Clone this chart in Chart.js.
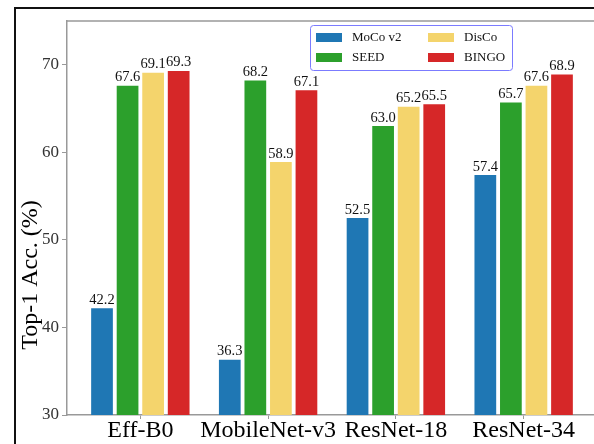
<!DOCTYPE html>
<html>
<head>
<meta charset="utf-8">
<script src="https://cdn.jsdelivr.net/npm/chart.js@4/dist/chart.umd.min.js"></script>
<style>
  html, body { margin: 0; padding: 0; background: #fff; overflow: hidden; }
  #wrap { width: 620px; height: 460px; }
</style>
</head>
<body>
<div id="wrap"><canvas id="chart" width="620" height="460"></canvas></div>
<script>
// values
const models = ['Eff-B0', 'MobileNet-v3', 'ResNet-18', 'ResNet-34'];
const mocoV2 = [42.2, 36.3, 52.5, 57.4];
const seed   = [67.6, 68.2, 63.0, 65.7];
const disco  = [69.1, 58.9, 65.2, 67.6];
const bingo  = [69.3, 67.1, 65.5, 68.9];
const yTicks = [30, 40, 50, 60, 70];

const serif = "'Liberation Serif', 'Times New Roman', serif";

function toPoints(arr) {
  return arr.map((v, i) => ({ x: i, y: v }));
}

// black outer frame + top spine
const framePlugin = {
  id: 'frame',
  beforeDraw(chart) {
    const ctx = chart.ctx;
    ctx.save();
    ctx.fillStyle = '#fff';
    ctx.fillRect(0, 0, chart.width, chart.height);
    ctx.strokeStyle = '#111';
    ctx.lineWidth = 2;
    ctx.strokeRect(15, 8, chart.width + 20, chart.height + 20);
    ctx.restore();
  },
  afterDraw(chart) {
    const a = chart.chartArea, ctx = chart.ctx;
    ctx.save();
    ctx.strokeStyle = '#999';
    ctx.lineWidth = 1.5;
    ctx.beginPath();
    ctx.moveTo(a.left, a.top);
    ctx.lineTo(a.right, a.top);
    ctx.stroke();
    ctx.restore();
  }
};

// numbers above the bars
const valueLabels = {
  id: 'valueLabels',
  afterDatasetsDraw(chart) {
    const ctx = chart.ctx;
    ctx.save();
    ctx.font = '14.5px ' + serif;
    ctx.fillStyle = '#111';
    ctx.textAlign = 'center';
    ctx.textBaseline = 'bottom';
    chart.data.datasets.forEach((ds, di) => {
      chart.getDatasetMeta(di).data.forEach((bar, i) => {
        ctx.fillText(ds.data[i].y.toFixed(1), bar.x, bar.y - 1);
      });
    });
    ctx.restore();
  }
};

// y title (sits lower than the axis centre in the original)
const yTitle = {
  id: 'yTitle',
  afterDraw(chart) {
    const ctx = chart.ctx;
    ctx.save();
    ctx.translate(31, 275);
    ctx.rotate(-Math.PI / 2);
    ctx.font = '24px ' + serif;
    ctx.fillStyle = '#000';
    ctx.textAlign = 'center';
    ctx.textBaseline = 'middle';
    ctx.fillText('Top-1 Acc. (%)', 0, 0);
    ctx.restore();
  }
};

// framed two-column legend, filled column by column
const boxLegend = {
  id: 'boxLegend',
  afterDraw(chart) {
    const ctx = chart.ctx;
    const x0 = 310, y0 = 25, w = 202, h = 45;
    ctx.save();
    ctx.fillStyle = '#fff';
    ctx.strokeStyle = '#7b7bff';
    ctx.lineWidth = 1;
    ctx.beginPath();
    ctx.roundRect(x0 + 0.5, y0 + 0.5, w, h, 3);
    ctx.fill();
    ctx.stroke();
    ctx.font = '13px ' + serif;
    ctx.textBaseline = 'middle';
    chart.data.datasets.forEach((ds, i) => {
      const col = Math.floor(i / 2), row = i % 2;
      const sx = x0 + 6 + col * 112;
      const sy = y0 + 12 + row * 20;
      ctx.fillStyle = ds.backgroundColor;
      ctx.fillRect(sx, sy - 4, 26, 9);
      ctx.fillStyle = '#111';
      ctx.fillText(ds.label, sx + 36, sy + 1);
    });
    ctx.restore();
  }
};

new Chart(document.getElementById('chart'), {
  type: 'bar',
  data: {
    datasets: [
      { label: 'MoCo v2', data: toPoints(mocoV2), backgroundColor: '#1f77b4' },
      { label: 'SEED',    data: toPoints(seed),   backgroundColor: '#2ca02c' },
      { label: 'DisCo',   data: toPoints(disco),  backgroundColor: '#f4d46c' },
      { label: 'BINGO',   data: toPoints(bingo),  backgroundColor: '#d62728' }
    ]
  },
  options: {
    responsive: false,
    animation: false,
    layout: { padding: { top: 21, right: 23, left: 0, bottom: 0 } },
    datasets: {
      bar: { categoryPercentage: 0.8, barPercentage: 0.85, borderWidth: 0 }
    },
    plugins: {
      legend: { display: false },
      tooltip: { enabled: false }
    },
    scales: {
      x: {
        type: 'linear',
        offset: false,
        min: -0.574,
        max: 3.574,
        afterBuildTicks: s => { s.ticks = models.map((m, i) => ({ value: i })); },
        afterFit: s => { s.height = 45; },
        grid: { display: true, offset: false, drawOnChartArea: false, tickLength: 4, color: '#999' },
        border: { color: '#999', width: 1.5 },
        ticks: {
          callback: v => models[v],
          font: { family: serif, size: 24, lineHeight: 1 },
          color: '#000',
          padding: 0,
          maxRotation: 0,
          autoSkip: false
        }
      },
      y: {
        min: 30,
        max: 75,
        afterBuildTicks: s => { s.ticks = yTicks.map(v => ({ value: v })); },
        afterFit: s => { s.width = 67; },
        grid: { display: true, drawOnChartArea: false, tickLength: 5, color: '#999' },
        border: { color: '#999', width: 1.5 },
        ticks: {
          font: { family: serif, size: 17 },
          color: '#333',
          padding: 3
        }
      }
    }
  },
  plugins: [framePlugin, valueLabels, yTitle, boxLegend]
});
</script>
</body>
</html>
